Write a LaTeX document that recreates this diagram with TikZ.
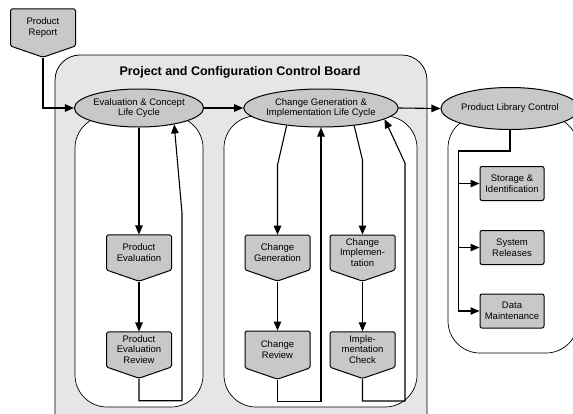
\documentclass[tikz,border=0pt]{standalone}
\usepackage{fontspec}
\setmainfont{Liberation Sans}
\usetikzlibrary{shapes.geometric,shapes.symbols,arrows.meta}
\definecolor{boardgray}{RGB}{230,230,230}
\definecolor{nodegray}{RGB}{200,200,200}

\begin{document}
\begin{tikzpicture}[x=1pt,y=-1pt,
	life_node/.style={ellipse,draw,line width=1pt,fill=nodegray,minimum width=128,minimum height=38,inner sep=0pt,align=center,font=\fontsize{9.5}{10.5}\selectfont},
	proc_node/.style={signal,signal to=south,signal pointer angle=142,draw,line width=1pt,fill=nodegray,rounded corners=1.5pt,minimum width=65,minimum height=43,inner xsep=1pt,inner ysep=1pt,align=center,font=\fontsize{9.5}{10.5}\selectfont},
	lib_node/.style={rectangle,draw,line width=1pt,fill=nodegray,rounded corners=2pt,minimum width=64,minimum height=34,inner sep=1pt,align=center,font=\fontsize{9.5}{10.5}\selectfont},
	arr/.style={line width=1.1pt,-{Triangle[length=9pt,width=7.5pt]}}]
	\useasboundingbox (0,0) rectangle (573,413);
	\draw[line width=0.8pt,fill=boardgray,rounded corners=25] (55,55) rectangle (427,440);
	\draw[line width=0.7pt,fill=white,rounded corners=32] (75,116) rectangle (203,407);
	\draw[line width=0.7pt,fill=white,rounded corners=32] (224,116) rectangle (417,407);
	\draw[line width=0.7pt,fill=white,rounded corners=32] (448,116) rectangle (578,353);

	\node[font=\fontsize{12.5}{14}\selectfont\bfseries] (14) at (240,72) {Project and Configuration Control Board};
	\node[proc_node] (1) at (43,27.5) {Product\\Report};
	\node[life_node] (2) at (139,108) {Evaluation \& Concept\\Life Cycle};
	\node[life_node] (3) at (321,108) {Change Generation \&\\Implementation Life Cycle};
	\node[life_node,minimum width=126,minimum height=42] (4) at (510,108.5) {Product Library Control};
	\node[proc_node] (5) at (139,252.5) {Product\\Evaluation};
	\node[proc_node] (6) at (139,349.5) {Product\\Evaluation\\Review};
	\node[proc_node] (7) at (277.5,252.5) {Change\\Generation};
	\node[proc_node] (8) at (277.5,349.5) {Change\\Review};
	\node[proc_node] (9) at (362.5,252.5) {Change\\Implemen-\\tation};
	\node[proc_node] (10) at (362.5,349.5) {Imple-\\mentation\\Check};
	\node[lib_node] (11) at (512,183.5) {Storage \&\\Identification};
	\node[lib_node] (12) at (512,247.5) {System\\Releases};
	\node[lib_node] (13) at (512,311) {Data\\Maintenance};

	\draw[arr] (1.south) |- (2.west);
	\draw[arr] (2.east) -- (3.west);
	\draw[arr] (3.east) -- (4.west);
	\draw[arr] (2.south) -- (5.north);
	\draw[arr] (5.south) -- (6.north);
	\draw[arr] (6.south) -- ++(0,22) -| (182,213) -- (2.-25);
	\draw[arr] (3.-153) -- (277.5,165) -- (7.north);
	\draw[arr] (7.south) -- (8.north);
	\draw[arr] (8.south) -- ++(0,22) -| (3.south);
	\draw[arr] (3.-28) -- (362.5,160) -- (9.north);
	\draw[arr] (9.south) -- (10.north);
	\draw[arr] (10.south) -- ++(0,22) -| (405,163) -- (3.-10);
	\draw[arr] (4.south) -- ++(0,21) -| ([xshift=-21pt]13.west) -- (13.west);
	\draw[arr] ([xshift=-21pt]11.west) -- (11.west);
	\draw[arr] ([xshift=-21pt]12.west) -- (12.west);
\end{tikzpicture}
\end{document}
